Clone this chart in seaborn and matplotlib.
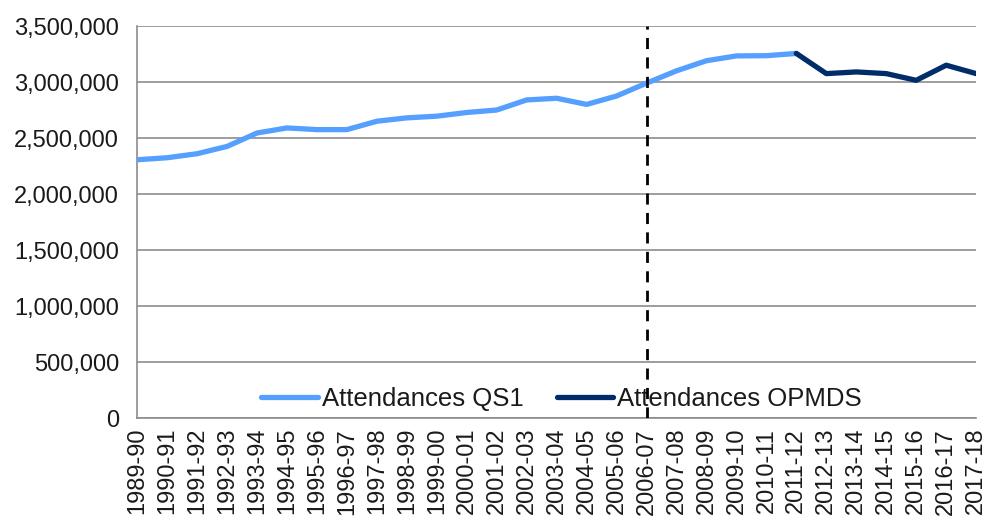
import matplotlib
matplotlib.use("Agg")
import matplotlib.pyplot as plt
import seaborn as sns
import pandas as pd
from matplotlib.ticker import FuncFormatter

years = ["1989-90", "1990-91", "1991-92", "1992-93", "1993-94", "1994-95", "1995-96",
         "1996-97", "1997-98", "1998-99", "1999-00", "2000-01", "2001-02", "2002-03",
         "2003-04", "2004-05", "2005-06", "2006-07", "2007-08", "2008-09", "2009-10",
         "2010-11", "2011-12", "2012-13", "2013-14", "2014-15", "2015-16", "2016-17",
         "2017-18"]

qs1_years = years[:23]
qs1_values = [2306000, 2324000, 2360000, 2425000, 2545000, 2590000, 2575000,
              2575000, 2650000, 2680000, 2695000, 2728000, 2750000, 2840000,
              2855000, 2800000, 2875000, 2990000, 3100000, 3190000, 3233000,
              3235000, 3255000]

opmds_years = years[22:]
opmds_values = [3255000, 3075000, 3090000, 3075000, 3015000, 3150000, 3075000]

divider_year = "2006-07"

sns.set_theme(style="white")
plt.rcParams["font.family"] = ["Liberation Sans", "DejaVu Sans"]

fig = plt.figure(figsize=(9.87, 5.2), dpi=100)
ax = fig.add_axes([0.139, 0.196, 0.850, 0.754])

df1 = pd.DataFrame({"x": [years.index(y) for y in qs1_years], "v": qs1_values,
                    "s": "Attendances QS1"})
df2 = pd.DataFrame({"x": [years.index(y) for y in opmds_years], "v": opmds_values,
                    "s": "Attendances OPMDS"})
df = pd.concat([df1, df2], ignore_index=True)

sns.lineplot(data=df, x="x", y="v", hue="s",
             palette={"Attendances QS1": "#55A0FF", "Attendances OPMDS": "#002D6A"},
             linewidth=3.8, ax=ax, zorder=3)

ax.axvline(years.index(divider_year), color="black", linewidth=2,
           linestyle=(0, (4, 3)), zorder=4)

ax.set_xlim(0, len(years) - 1)
ax.set_ylim(0, 3500000)
ax.set_yticks(range(0, 3500001, 500000))
ax.yaxis.set_major_formatter(FuncFormatter(lambda v, p: f"{int(v):,}"))
ax.set_xticks(range(len(years)))
ax.set_xticklabels(years, rotation=90)
ax.set_xlabel("")
ax.set_ylabel("")

ax.grid(axis="y", color="#8c8c8c", linewidth=1.2, zorder=0)
ax.set_axisbelow(True)
for s in ["top", "right"]:
    ax.spines[s].set_visible(False)
for s in ["left", "bottom"]:
    ax.spines[s].set_color("#8c8c8c")
    ax.spines[s].set_linewidth(1.2)
ax.tick_params(axis="both", which="major", direction="out", length=5, width=1.2,
               color="#8c8c8c", labelsize=17, labelcolor="#1a1a1a")
ax.tick_params(axis="y", pad=8)
ax.tick_params(axis="x", pad=2)

leg = ax.legend(loc="center", bbox_to_anchor=(0.506, 0.048), ncol=2,
                frameon=False, fontsize=18.5, handlelength=2.2, columnspacing=1.3,
                handletextpad=0.15, borderpad=0, borderaxespad=0)
for t in leg.get_texts():
    t.set_color("#1a1a1a")
leg.set_zorder(2)

fig.savefig("out.png", dpi=100)
